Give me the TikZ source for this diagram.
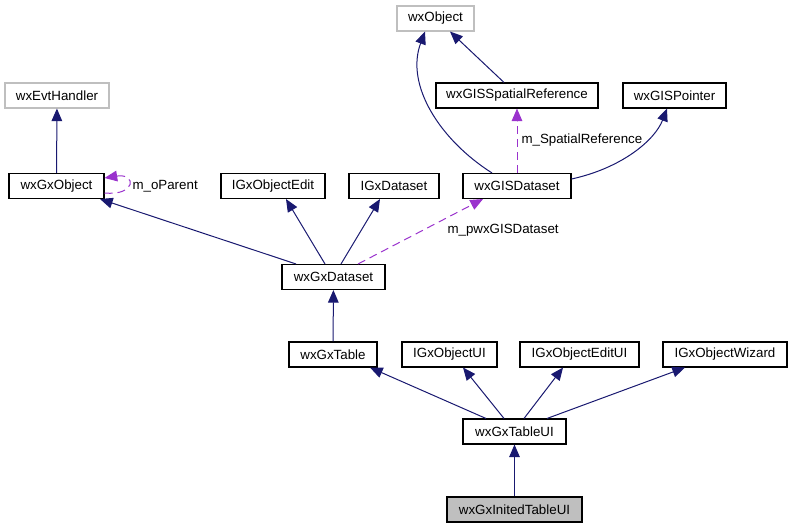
\documentclass[tikz,border=0pt]{standalone}
\usepackage{fontspec}
\setmainfont{Liberation Sans}
\usetikzlibrary{arrows.meta, calc}
\definecolor{cnavy}{HTML}{191970}
\definecolor{cpurple}{HTML}{9A32CD}
\definecolor{cgrey}{HTML}{BFBFBF}
\tikzset{
  every picture/.style={font=\fontsize{10pt}{12pt}\selectfont, line width=0.75pt},
  cls/.style={draw=#1, fill=white, inner xsep=4pt, inner ysep=0pt, minimum height=18.75pt, line width=0.8pt},
  cls/.default=black,
  inh/.style={-{Triangle[length=9.5pt, width=8pt]}, draw=cnavy, line width=0.75pt},
  member/.style={-{Triangle[length=9.5pt, width=8pt]}, draw=cpurple, dash pattern=on 6pt off 3.75pt, line width=0.75pt},
  lbl/.style={anchor=west, inner sep=0pt},
}

\begin{document}
\begin{tikzpicture}[x=0.75pt, y=-0.75pt]
  \useasboundingbox (0,0) rectangle (792,528);
  \node[cls=cgrey, minimum width=57.75pt] (wxobj) at (435.5,18.5) {wxObject};
  \node[cls=cgrey, minimum width=78pt] (evt) at (57,95.5) {wxEvtHandler};
  \node[cls, minimum width=121.5pt] (spref) at (517,95.5) {wxGISSpatialReference};
  \node[cls, minimum width=77.25pt] (pointer) at (674.5,95.5) {wxGISPointer};
  \node[cls, minimum width=71.25pt] (gxobj) at (56.5,186) {wxGxObject};
  \node[cls, minimum width=78pt] (objedit) at (273,186) {IGxObjectEdit};
  \node[cls, minimum width=67.5pt] (igxds) at (394,186) {IGxDataset};
  \node[cls, minimum width=81pt] (gisds) at (517,186) {wxGISDataset};
  \node[cls, minimum width=77.25pt] (gxds) at (333.5,277) {wxGxDataset};
  \node[cls, minimum width=66pt] (table) at (333,354.5) {wxGxTable};
  \node[cls, minimum width=71.25pt] (objui) at (449.5,354.5) {IGxObjectUI};
  \node[cls, minimum width=89.25pt] (editui) at (579.5,354.5) {IGxObjectEditUI};
  \node[cls, minimum width=93pt] (wizard) at (725,354.5) {IGxObjectWizard};
  \node[cls, minimum width=77.25pt] (tableui) at (514.5,431.5) {wxGxTableUI};
  \node[cls=black, fill=cgrey, minimum width=101.25pt] (inited) at (514.5,509.5) {wxGxInitedTableUI};

  \draw[inh] (gxobj) -- (evt);
  \draw[member] ($(gxobj.east)+(0,7)$) .. controls ($(gxobj.east)+(32,10)$) and ($(gxobj.east)+(32,-13)$) .. ($(gxobj.east)+(0,-8)$);
  \node[lbl] (lparent) at (132,186) {m\_oParent};
  \draw[inh] ($(gxds.north)+(-37.5,0)$) -- ($(gxobj.south)+(43.5,0)$);
  \draw[inh] ($(gxds.north)+(-8.5,0)$) -- ($(objedit.south)+(13,0)$);
  \draw[inh] ($(gxds.north)+(7.5,0)$) -- ($(igxds.south)+(-14,0)$);
  \draw[member] ($(gxds.north)+(24.5,0)$) -- ($(gisds.south)+(-34,0)$);
  \node[lbl] (lgisds) at (447,230) {m\_pwxGISDataset};
  \draw[inh] ($(spref.north)+(-13,0)$) -- ($(wxobj.south)+(14.5,0)$);
  \draw[inh] ($(gisds.north)+(-25,0)$) .. controls (440,140) and (405,85) .. ($(wxobj.south)+(-10.5,0)$);
  \draw[member] (gisds) -- (spref);
  \node[lbl] (lspref) at (521,140) {m\_SpatialReference};
  \draw[inh] ($(gisds.east)+(0,-7)$) .. controls (622,168) and (655,140) .. ($(pointer.south)+(-7.5,0)$);
  \draw[inh] (table) -- (gxds);
  \draw[inh] ($(tableui.north)+(-28.5,0)$) -- ($(table.south)+(37,0)$);
  \draw[inh] ($(tableui.north)+(-10.5,0)$) -- ($(objui.south)+(13.5,0)$);
  \draw[inh] ($(tableui.north)+(9.5,0)$) -- ($(editui.south)+(-16.5,0)$);
  \draw[inh] ($(tableui.north)+(32.5,0)$) -- ($(wizard.south)+(-40,0)$);
  \draw[inh] (inited) -- (tableui);
\end{tikzpicture}
\end{document}
